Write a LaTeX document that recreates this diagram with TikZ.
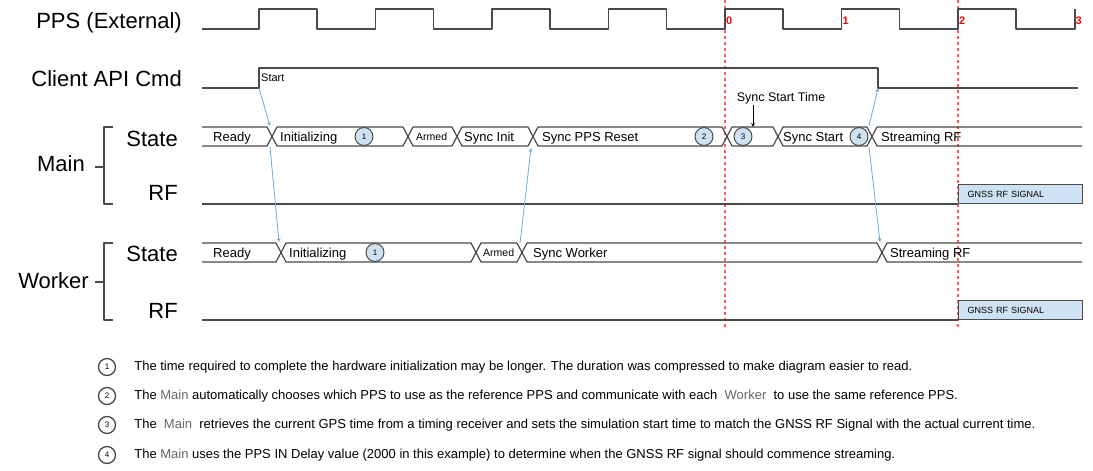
\documentclass[tikz,border=0pt]{standalone}
\usepackage{fontspec}
\setmainfont{Liberation Sans}
\usetikzlibrary{positioning}
\definecolor{sigline}{HTML}{4A4A4A}
\definecolor{arrowblue}{HTML}{6FA8DC}
\definecolor{notefill}{HTML}{CFE2F3}
\definecolor{markred}{HTML}{FF5A5A}
\definecolor{namegray}{HTML}{666666}

\begin{document}
\begin{tikzpicture}[x=1pt, y=-1pt, >=stealth, line join=round,
    sig/.style={draw=sigline, line width=1.2pt},
    rowlabel/.style={font=\fontsize{22}{26}\selectfont, anchor=base east, inner sep=0pt},
    statetext/.style={font=\fontsize{13}{15}\selectfont, anchor=base west, inner sep=0pt},
    smalltext/.style={font=\fontsize{10.5}{12}\selectfont, anchor=base west, inner sep=0pt},
    badge/.style={circle, draw=sigline, fill=notefill, line width=1pt, minimum size=18pt, inner sep=0pt, font=\fontsize{8}{9}\selectfont},
    notebadge/.style={badge, fill=white, line width=1.3pt, minimum size=17pt},
    notetext/.style={font=\fontsize{13}{15}\selectfont, anchor=west, inner sep=0pt},
    rfbox/.style={draw=sigline, fill=notefill, line width=1.2pt, anchor=south west, minimum height=19pt, text width=106pt, inner xsep=9pt, align=left, font=\fontsize{9}{10}\selectfont},
    bluearrow/.style={->, draw=arrowblue, line width=0.8pt},
    marker/.style={draw=markred, dashed, line width=1.2pt},
    bracket/.style={draw=sigline, line width=1.2pt}]
    \useasboundingbox (0,0) rectangle (1093,471);

    % row names
    \node[rowlabel] (ppslabel) at (182,28) {PPS (External)};
    \node[rowlabel] (cmdlabel) at (182,86) {Client API Cmd};
    \node[rowlabel] (mainlabel) at (85,171) {Main};
    \node[rowlabel] (mstatelabel) at (178,146) {State};
    \node[rowlabel] (mrflabel) at (178,200) {RF};
    \node[rowlabel] (workerlabel) at (89,288) {Worker};
    \node[rowlabel] (wstatelabel) at (178,261) {State};
    \node[rowlabel] (wrflabel) at (178,318) {RF};
    \draw[bracket] (113,127) -- (104,127) -- (104,204) -- (113,204) (95,167) -- (104,167);
    \draw[bracket] (113,243) -- (104,243) -- (104,320) -- (113,320) (95,282) -- (104,282);

    % reference second markers
    \draw[marker] (725,0) -- (725,330);
    \draw[marker] (958,0) -- (958,330);

    % pps pulses
    \draw[sig] (202,29) foreach \k in {0,...,6} { -- (259+116.5*\k,29) -- (259+116.5*\k,9) -- (317+116.5*\k,9) -- (317+116.5*\k,29) } -- (1075,29) -- (1075,9);
    \foreach \k/\sec in {4/0,5/1,6/2,7/3}
      \node[text=red, font=\bfseries\fontsize{11}{12}\selectfont, anchor=west, inner sep=0pt] (sec\sec) at (260+116.5*\k,21) {\sec};

    % client command
    \coordinate (cmdrise) at (259,88);
    \coordinate (cmdfall) at (878,88);
    \draw[sig] (202,88) -- (cmdrise) -- (259,68) -- (878,68) -- (cmdfall) -- (1078,88);
    \node[font=\fontsize{11}{12}\selectfont, anchor=west, inner sep=0pt] (startcmd) at (261,78) {Start};

    % main state bus
    \draw[sig] (202,127) -- (267,127) -- (272,136.5) -- (267,146) -- (202,146);
    \foreach \a/\b in {272/408,408/457,457/533,533/727,727/778,778/872}
      \draw[sig] (\a,136.5) -- (\a+5,127) -- (\b-5,127) -- (\b,136.5) -- (\b-5,146) -- (\a+5,146) -- cycle;
    \draw[sig] (1082,127) -- (877,127) -- (872,136.5) -- (877,146) -- (1082,146);
    \node[statetext] (mready) at (213,141) {Ready};
    \node[statetext] (minit) at (280,141) {Initializing};
    \node[badge] (mnote1) at (364,136.5) {1};
    \node[smalltext] (marmed) at (416,140.5) {Armed};
    \node[statetext] (msyncinit) at (464,141) {Sync Init};
    \node[statetext] (mppsreset) at (542,141) {Sync PPS Reset};
    \node[badge] (mnote2) at (704,136.5) {2};
    \node[badge] (mnote3) at (743,136.5) {3};
    \node[statetext] (msyncstart) at (783,141) {Sync Start};
    \node[badge] (mnote4) at (859,136.5) {4};
    \node[statetext] (mstream) at (881,141) {Streaming RF};
    \node[font=\fontsize{12.5}{14}\selectfont, inner sep=1pt] (synctime) at (781,98) {Sync Start Time};
    \coordinate (synctick) at (753,127);
    \draw[->, draw=black, line width=0.8pt] (synctime.south -| synctick) -- (synctick);

    % main rf
    \draw[sig] (202,204) -- (958,204);
    \node[rfbox] (mainrf) at (958,204) {GNSS RF SIGNAL};

    % worker state bus
    \draw[sig] (202,243) -- (276,243) -- (281,252.5) -- (276,262) -- (202,262);
    \foreach \a/\b in {281/476,476/522,522/882}
      \draw[sig] (\a,252.5) -- (\a+5,243) -- (\b-5,243) -- (\b,252.5) -- (\b-5,262) -- (\a+5,262) -- cycle;
    \draw[sig] (1082,243) -- (887,243) -- (882,252.5) -- (887,262) -- (1082,262);
    \node[statetext] (wready) at (213,257) {Ready};
    \node[statetext] (winit) at (289,257) {Initializing};
    \node[badge] (wnote1) at (375,252.5) {1};
    \node[smalltext] (warmed) at (483,256.5) {Armed};
    \node[statetext] (wsync) at (533,257) {Sync Worker};
    \node[statetext] (wstream) at (890,257) {Streaming RF};

    % worker rf
    \draw[sig] (202,320) -- (958,320);
    \node[rfbox] (workerrf) at (958,320) {GNSS RF SIGNAL};

    % handshakes
    \coordinate (mx1top) at (270,126);
    \coordinate (mx1bot) at (270,147);
    \coordinate (wx1top) at (279,242);
    \coordinate (mx4bot) at (531,148);
    \coordinate (wx3top) at (520,243);
    \coordinate (mx7top) at (869,126);
    \coordinate (mx7bot) at (869,147);
    \coordinate (wx4top) at (880,242);
    \draw[bluearrow] (cmdrise) -- (mx1top);
    \draw[bluearrow] (mx1bot) -- (wx1top);
    \draw[bluearrow] (wx3top) -- (mx4bot);
    \draw[bluearrow] (mx7top) -- (cmdfall);
    \draw[bluearrow] (mx7bot) -- (wx4top);

    % notes
    \node[notebadge] (key1) at (107,367) {1};
    \node[notetext, right=18pt of key1] (keytext1) {The time required to complete the hardware initialization may be longer. The duration was compressed to make diagram easier to read.};
    \node[notebadge] (key2) at (107,396) {2};
    \node[notetext, right=18pt of key2] (keytext2) {The {\color{namegray}Main} automatically chooses which PPS to use as the reference PPS and communicate with each \ {\color{namegray}Worker} \ to use the same reference PPS.};
    \node[notebadge] (key3) at (107,425) {3};
    \node[notetext, right=18pt of key3] (keytext3) {The \ {\color{namegray}Main} \ retrieves the current GPS time from a timing receiver and sets the simulation start time to match the GNSS RF Signal with the actual current time.};
    \node[notebadge] (key4) at (107,455) {4};
    \node[notetext, right=18pt of key4] (keytext4) {The {\color{namegray}Main} uses the PPS IN Delay value (2000 in this example) to determine when the GNSS RF signal should commence streaming.};
\end{tikzpicture}
\end{document}
